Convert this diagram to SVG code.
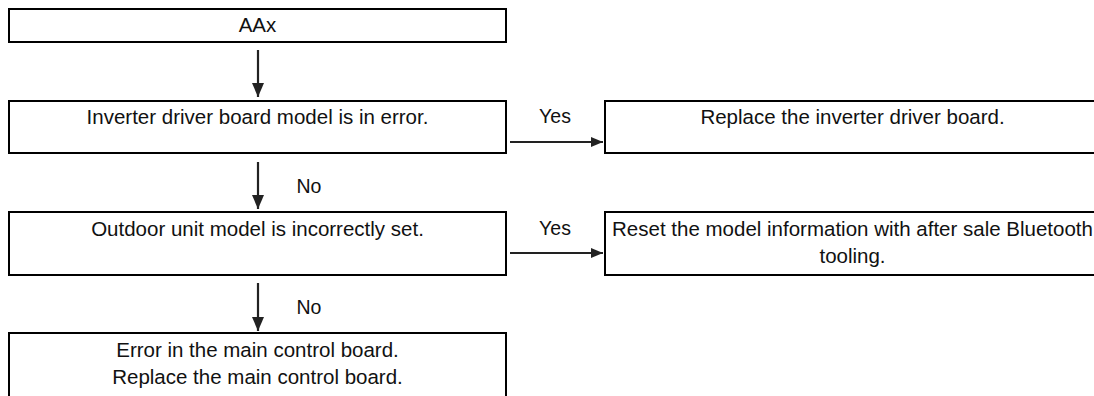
<svg xmlns="http://www.w3.org/2000/svg" width="1094" height="396" viewBox="0 0 1094 396">
<style>
.box{fill:#fff;stroke:#000;stroke-width:2}
.t{font-family:"Liberation Sans",Arial,sans-serif;font-size:20.5px;fill:#111;text-anchor:middle}
.l{font-family:"Liberation Sans",Arial,sans-serif;font-size:19.5px;fill:#111;text-anchor:middle}
.c{stroke:#222;stroke-width:2.2;fill:none}
</style>
<defs>
<marker id="ah" markerUnits="userSpaceOnUse" markerWidth="14" markerHeight="12" refX="14" refY="6" orient="auto">
<path d="M0,0 L14,6 L0,12 Z" fill="#222"/>
</marker>
<marker id="ahs" markerUnits="userSpaceOnUse" markerWidth="12" markerHeight="10" refX="12" refY="5" orient="auto">
<path d="M0,0 L12,5 L0,10 Z" fill="#222"/>
</marker>
</defs>
<rect width="1094" height="396" fill="#fff"/>
<g id="connectors">
<line class="c" x1="258" y1="50" x2="258" y2="97" marker-end="url(#ah)"/>
<line class="c" x1="258" y1="162" x2="258" y2="209" marker-end="url(#ah)"/>
<line class="c" x1="258" y1="283" x2="258" y2="331" marker-end="url(#ah)"/>
<line class="c" x1="510" y1="142" x2="603" y2="142" marker-end="url(#ahs)"/>
<line class="c" x1="510" y1="253" x2="603" y2="253" marker-end="url(#ahs)"/>
<text class="l" x="555" y="123">Yes</text>
<text class="l" x="555" y="235">Yes</text>
<text class="l" x="309" y="193">No</text>
<text class="l" x="309" y="314">No</text>
</g>
<g id="n1">
<rect class="box" x="9" y="9" width="497" height="33"/>
<text class="t" x="257.5" y="32">AAx</text>
</g>
<g id="n2">
<rect class="box" x="9" y="101" width="497" height="52"/>
<text class="t" x="257.5" y="124">Inverter driver board model is in error.</text>
</g>
<g id="n3">
<rect class="box" x="605" y="101" width="495" height="52"/>
<text class="t" x="852.5" y="124">Replace the inverter driver board.</text>
</g>
<g id="n4">
<rect class="box" x="9" y="212" width="497" height="63"/>
<text class="t" x="257.5" y="236">Outdoor unit model is incorrectly set.</text>
</g>
<g id="n5">
<rect class="box" x="605" y="212" width="495" height="63"/>
<text class="t" x="852.5" y="236">Reset the model information with after sale Bluetooth</text>
<text class="t" x="852.5" y="263">tooling.</text>
</g>
<g id="n6">
<rect class="box" x="9" y="333" width="497" height="66"/>
<text class="t" x="257.5" y="357">Error in the main control board.</text>
<text class="t" x="257.5" y="384">Replace the main control board.</text>
</g>
</svg>
